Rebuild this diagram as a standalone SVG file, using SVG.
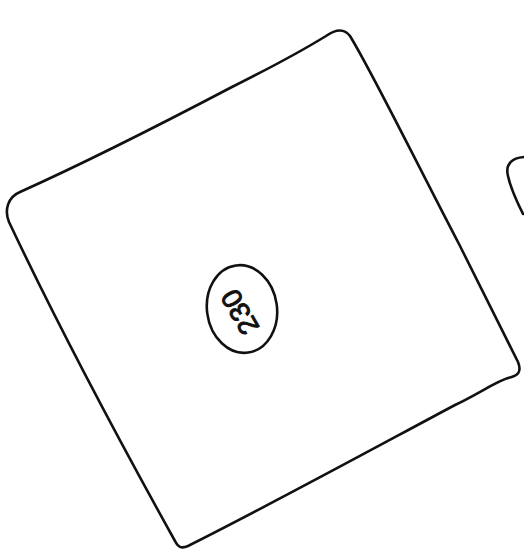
<svg xmlns="http://www.w3.org/2000/svg" width="524" height="550" viewBox="0 0 524 550">
  <style>
    .ink { fill: none; stroke: #111; stroke-width: 2.6; stroke-linecap: round; stroke-linejoin: round; }
    .label { font-family: "Liberation Sans", "DejaVu Sans", sans-serif; font-size: 28px; fill: #111; stroke: #111; stroke-width: 1; }
  </style>
  <rect width="524" height="550" fill="#fff"/>
  <g id="node-square">
    <path class="ink" d="M 20 192 C 80 165, 150 130, 230 88 C 270 68, 300 52, 326 36 C 336 29, 344 28, 350 36 C 372 72, 410 150, 460 246 C 485 296, 505 336, 518 362 C 522 372, 518 376, 508 378 C 495 382, 480 393, 455 405 C 380 445, 270 505, 188 546 C 181 549, 178 547, 175 541 C 130 460, 60 330, 9 222 C 4 210, 8 197, 20 192 Z"/>
  </g>
  <g id="node-230">
    <ellipse class="ink" cx="242" cy="309" rx="35" ry="44" transform="rotate(-8 242 309)"/>
    <text class="label" x="0" y="0" text-anchor="middle" dominant-baseline="central" transform="translate(240 312) rotate(-120)">230</text>
  </g>
  <g id="node-partial">
    <path class="ink" d="M 524 157 C 512 158, 505 164, 508 176 C 511 190, 517 202, 523 214"/>
  </g>
  <g id="connectors"/>
</svg>
